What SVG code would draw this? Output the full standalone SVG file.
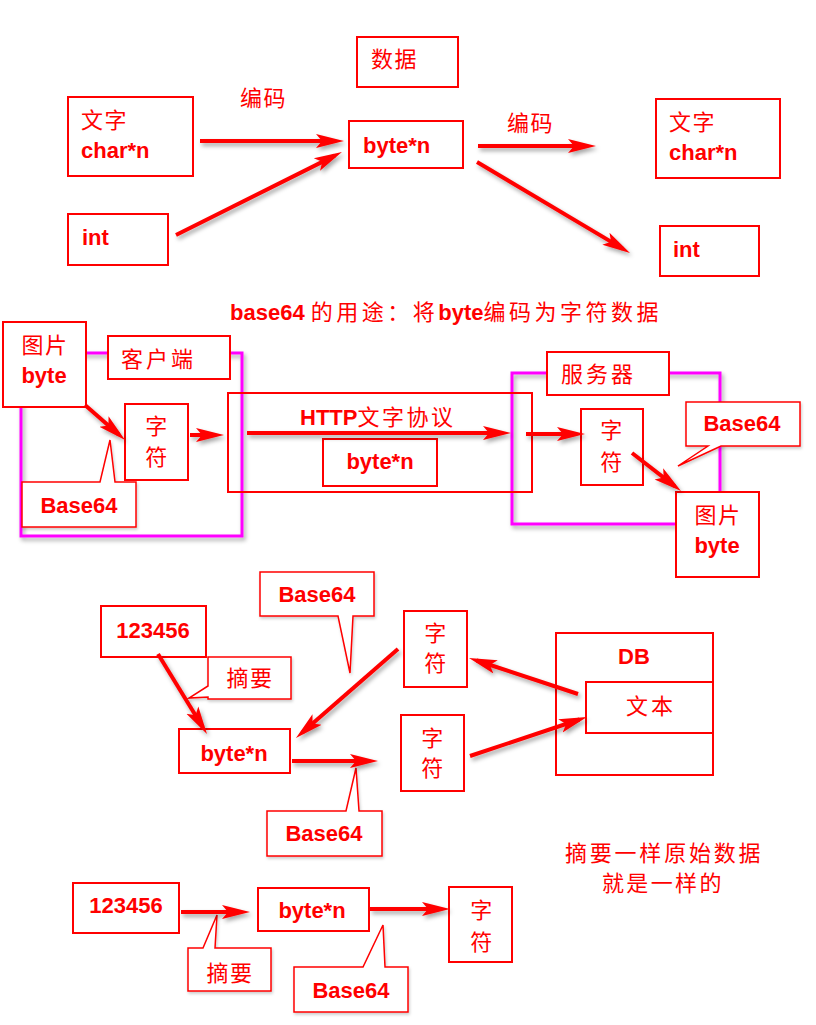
<svg xmlns="http://www.w3.org/2000/svg" width="816" height="1025" viewBox="0 0 816 1025">
<defs>
<style>
.box{fill:#fff;stroke:#f00;stroke-width:2}
.boxn{fill:none;stroke:#f00;stroke-width:2}
.lat{font-family:"Liberation Sans","Noto Sans CJK SC",sans-serif;font-weight:bold;font-size:22px;fill:#f00}
.cjk{font-family:"Noto Sans CJK SC",sans-serif;font-weight:normal;font-size:22px;fill:#f00;letter-spacing:1.5px}
.mid{text-anchor:middle}
.arr{stroke:#f00;stroke-width:4;fill:none;marker-end:url(#ah);filter:url(#sh)}
.mag{fill:none;stroke:#f0f;stroke-width:3;filter:url(#sh)}
.call{fill:#fff;stroke:#f00;stroke-width:1.5;filter:url(#sh2)}
</style>
<filter id="sh" filterUnits="userSpaceOnUse" x="0" y="0" width="816" height="1025">
<feDropShadow dx="2" dy="3" stdDeviation="2" flood-color="#000" flood-opacity="0.35"/>
</filter>
<filter id="sh2" filterUnits="userSpaceOnUse" x="0" y="0" width="816" height="1025">
<feDropShadow dx="1" dy="2" stdDeviation="1.5" flood-color="#000" flood-opacity="0.2"/>
</filter>
<marker id="ah" markerUnits="userSpaceOnUse" markerWidth="28" markerHeight="16" viewBox="0 0 28 16" refX="20" refY="8" orient="auto">
<path d="M0,1 L28,8 L0,15 L6,8 Z" fill="#f00"/>
</marker>
</defs>
<rect width="816" height="1025" fill="#fff"/>

<!-- containers -->
<g id="client-area"><rect class="mag" x="21" y="353" width="221" height="183"/></g>
<g id="server-area"><rect class="mag" x="512" y="373" width="208" height="151"/></g>

<!-- top section -->
<g id="data-label"><rect class="box" x="357" y="37" width="101" height="50"/><text class="cjk" x="371" y="67">数据</text></g>
<g id="enc-label-1"><text class="cjk" x="240" y="106">编码</text></g>
<g id="text-left"><rect class="box" x="68" y="97" width="125" height="79"/><text class="cjk" x="81" y="128">文字</text><text class="lat" x="81" y="158">char*n</text></g>
<g id="int-left"><rect class="box" x="68" y="214" width="100" height="51"/><text class="lat" x="82" y="245">int</text></g>
<g id="bytes-top"><rect class="box" x="349" y="121" width="114" height="47"/><text class="lat" x="363" y="153">byte*n</text></g>
<g id="enc-label-2"><text class="cjk" x="507" y="131">编码</text></g>
<g id="text-right"><rect class="box" x="656" y="99" width="124" height="79"/><text class="cjk" x="669" y="130">文字</text><text class="lat" x="669" y="160">char*n</text></g>
<g id="int-right"><rect class="box" x="660" y="226" width="99" height="50"/><text class="lat" x="673" y="257">int</text></g>

<g id="title"><text class="lat" x="230" y="320">base64 <tspan class="cjk" style="letter-spacing:3.5px">的用途：将</tspan>byte<tspan class="cjk" style="letter-spacing:3.5px">编码为字符数据</tspan></text></g>

<!-- middle section -->
<g id="http-box"><rect class="boxn" x="228" y="393" width="304" height="99"/><text class="lat" x="300" y="425">HTTP<tspan class="cjk" style="letter-spacing:2.5px">文字协议</tspan></text></g>
<g id="http-bytes"><rect class="box" x="323" y="439" width="114" height="47"/><text class="lat mid" x="380" y="469">byte*n</text></g>
<g id="img-left"><rect class="box" x="3" y="322" width="83" height="85"/><text class="cjk mid" x="45" y="353">图片</text><text class="lat mid" x="44" y="383">byte</text></g>
<g id="client-label"><rect class="box" x="108" y="336" width="122" height="43"/><text class="cjk" x="121" y="367" style="letter-spacing:3px">客户端</text></g>
<g id="chars-client"><rect class="box" x="125" y="404" width="63" height="76"/><text class="cjk mid" x="157" y="434">字</text><text class="cjk mid" x="157" y="465">符</text></g>
<g id="b64-client"><path class="call" d="M22,482 H100 L110,440 L115,482 H136 V527 H22 Z"/><text class="lat mid" x="79" y="513">Base64</text></g>
<g id="server-label"><rect class="box" x="547" y="352" width="122" height="43"/><text class="cjk" x="561" y="382" style="letter-spacing:3px">服务器</text></g>
<g id="chars-server"><rect class="box" x="581" y="409" width="62" height="76"/><text class="cjk mid" x="612" y="438">字</text><text class="cjk mid" x="612" y="470">符</text></g>
<g id="b64-server"><path class="call" d="M686,402 H800 V446 H721 L678,466 L708,446 H686 Z"/><text class="lat mid" x="742" y="431">Base64</text></g>
<g id="img-right"><rect class="box" x="676" y="492" width="83" height="85"/><text class="cjk mid" x="718" y="523">图片</text><text class="lat mid" x="717" y="553">byte</text></g>

<!-- bottom section -->
<g id="num-1"><rect class="box" x="101" y="606" width="105" height="51"/><text class="lat mid" x="153" y="638">123456</text></g>
<g id="digest-1"><path class="call" d="M208,657 H291 V699 H208 V697 L189,698 L208,686 Z"/><text class="cjk mid" x="250" y="686">摘要</text></g>
<g id="b64-a"><path class="call" d="M260,572 H374 V616 H353 L350,673 L338,616 H260 Z"/><text class="lat mid" x="317" y="602">Base64</text></g>
<g id="bytes-2"><rect class="box" x="179" y="729" width="111" height="44"/><text class="lat mid" x="234" y="761">byte*n</text></g>
<g id="b64-b"><path class="call" d="M267,811 H346 L356,768 L359,811 H382 V856 H267 Z"/><text class="lat mid" x="324" y="841">Base64</text></g>
<g id="chars-a"><rect class="box" x="404" y="611" width="63" height="76"/><text class="cjk mid" x="436" y="641">字</text><text class="cjk mid" x="436" y="671">符</text></g>
<g id="chars-b"><rect class="box" x="401" y="715" width="63" height="76"/><text class="cjk mid" x="433" y="746">字</text><text class="cjk mid" x="433" y="776">符</text></g>
<g id="db"><rect class="box" x="556" y="633" width="157" height="142"/><text class="lat mid" x="634" y="664">DB</text></g>
<g id="db-text"><rect class="box" x="586" y="682" width="127" height="51"/><text class="cjk mid" x="651" y="714" style="letter-spacing:3px">文本</text></g>
<g id="note"><text class="cjk" x="565" y="861" textLength="197" lengthAdjust="spacing">摘要一样原始数据</text><text class="cjk" x="602" y="891" textLength="121" lengthAdjust="spacing">就是一样的</text></g>

<g id="num-2"><rect class="box" x="73" y="883" width="106" height="50"/><text class="lat mid" x="126" y="913">123456</text></g>
<g id="digest-2"><path class="call" d="M188,948 H203 L217,915 L215,948 H271 V991 H188 Z"/><text class="cjk mid" x="230" y="981">摘要</text></g>
<g id="bytes-3"><rect class="box" x="258" y="888" width="111" height="43"/><text class="lat mid" x="312" y="918">byte*n</text></g>
<g id="b64-c"><path class="call" d="M294,967 H363 L383,925 L385,967 H408 V1012 H294 Z"/><text class="lat mid" x="351" y="998">Base64</text></g>
<g id="chars-c"><rect class="box" x="449" y="887" width="63" height="75"/><text class="cjk mid" x="482" y="918">字</text><text class="cjk mid" x="482" y="950">符</text></g>

<g id="connectors">
<line class="arr" x1="200" y1="141" x2="336" y2="141"/>
<line class="arr" x1="176" y1="235" x2="334.8" y2="155.6"/>
<line class="arr" x1="478" y1="146" x2="588" y2="146"/>
<line class="arr" x1="477" y1="162" x2="623.1" y2="248.9"/>
<line class="arr" x1="85" y1="405" x2="119" y2="434.7"/>
<line class="arr" x1="190" y1="435" x2="216" y2="435"/>
<line class="arr" x1="247" y1="433" x2="503" y2="433"/>
<line class="arr" x1="526" y1="434" x2="577" y2="434"/>
<line class="arr" x1="632" y1="453" x2="674.7" y2="486.1"/>
<line class="arr" x1="158" y1="654" x2="202.8" y2="727.2"/>
<line class="arr" x1="398" y1="649" x2="302" y2="732.7"/>
<line class="arr" x1="292" y1="761" x2="370" y2="761"/>
<line class="arr" x1="578" y1="694" x2="476.6" y2="660.5"/>
<line class="arr" x1="470" y1="756" x2="579.4" y2="719.5"/>
<line class="arr" x1="181" y1="912" x2="242" y2="912"/>
<line class="arr" x1="370" y1="909" x2="442" y2="909"/>
</g>
</svg>
